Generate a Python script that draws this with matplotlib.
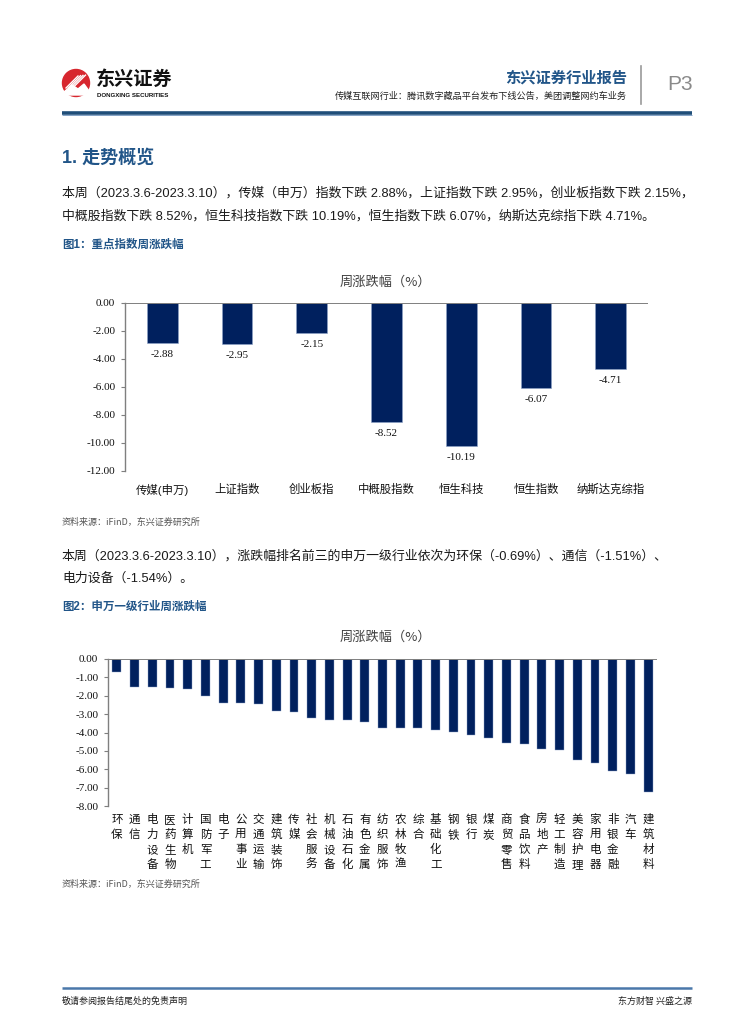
import matplotlib
matplotlib.use('Agg')
import matplotlib.pyplot as plt
from matplotlib.patches import Circle, Polygon

# ---------------- data ----------------
idx_names = ['传媒(申万)', '上证指数', '创业板指', '中概股指数', '恒生科技', '恒生指数', '纳斯达克综指']
idx_vals = [-2.88, -2.95, -2.15, -8.52, -10.19, -6.07, -4.71]
idx_ticks = [0, -2, -4, -6, -8, -10, -12]

ind_names = ['环保', '通信', '电力设备', '医药生物', '计算机', '国防军工', '电子', '公用事业',
             '交通运输', '建筑装饰', '传媒', '社会服务', '机械设备', '石油石化', '有色金属',
             '纺织服饰', '农林牧渔', '综合', '基础化工', '钢铁', '银行', '煤炭', '商贸零售',
             '食品饮料', '房地产', '轻工制造', '美容护理', '家用电器', '非银金融', '汽车', '建筑材料']
ind_vals = [-0.69, -1.51, -1.54, -1.60, -1.65, -2.01, -2.40, -2.41, -2.46, -2.82, -2.88,
            -3.19, -3.30, -3.33, -3.44, -3.77, -3.77, -3.77, -3.88, -3.99, -4.13, -4.28,
            -4.55, -4.61, -4.92, -4.95, -5.48, -5.65, -6.07, -6.27, -7.25]
ind_ticks = [0, -1, -2, -3, -4, -5, -6, -7, -8]

para1 = ['本周（2023.3.6-2023.3.10），传媒（申万）指数下跌 2.88%，上证指数下跌 2.95%，创业板指数下跌 2.15%，',
         '中概股指数下跌 8.52%，恒生科技指数下跌 10.19%，恒生指数下跌 6.07%，纳斯达克综指下跌 4.71%。']
para2 = ['本周（2023.3.6-2023.3.10），涨跌幅排名前三的申万一级行业依次为环保（-0.69%）、通信（-1.51%）、',
         '电力设备（-1.54%）。']

# ---------------- styles ----------------
SANS = ['Liberation Sans', 'Noto Sans CJK SC', 'DejaVu Sans']
SERIF = ['Liberation Serif', 'Noto Sans CJK SC', 'DejaVu Sans']
CJK = ['Noto Sans CJK SC', 'DejaVu Sans']
BLUE = '#215588'
NAVY = '#00205E'
GRAY = '#7f7f7f'

W, H = 755, 1024
fig = plt.figure(figsize=(W / 100, H / 100), dpi=100)
fig.patch.set_facecolor('white')

def rect(x0, y0, x1, y1):
    return [x0 / W, 1 - y1 / H, (x1 - x0) / W, (y1 - y0) / H]

ov = fig.add_axes([0, 0, 1, 1], zorder=0)
ov.set_xlim(0, W)
ov.set_ylim(H, 0)
ov.axis('off')

# ---- header ----
ov.add_patch(Circle((76, 83), 13.5, color='#D7262E', zorder=2))
ov.add_patch(Polygon([[64, 92], [72, 85], [78, 89], [84, 84], [89, 91], [86, 95], [66, 95]],
                     closed=True, color='white', zorder=3))
for k in range(4):
    ov.plot([66 + k * 2.5, 78 + k * 2.5], [88 - k * 0.3, 76 - k * 0.3], color='white', lw=1.0, zorder=3)
ov.text(96, 79, '东兴证券', family=CJK, fontsize=13.8, fontweight='bold', color='#111111', va='center', ha='left')
ov.text(97, 95.5, 'DONGXING SECURITIES', family=SANS, fontsize=4.4, fontweight='bold', color='#111111', va='center', ha='left')

ov.text(627, 78, '东兴证券行业报告', family=CJK, fontsize=11, fontweight='bold', color=BLUE, va='center', ha='right')
ov.text(627, 96, '传媒互联网行业：腾讯数字藏品平台发布下线公告，美团调整网约车业务', family=CJK, fontsize=6.6,
        color='#222222', va='center', ha='right')
ov.plot([641, 641], [66, 104], color='#9a9a9a', lw=1.2)
ov.text(667, 85, 'P3', family=SANS, fontsize=15, color='#8a8a8a', va='center', ha='left')
ov.plot([62, 692], [113, 113], color='#1F4E79', lw=2.6, solid_capstyle='butt')
ov.plot([62, 692], [114.6, 114.6], color='#6f93bd', lw=0.6, solid_capstyle='butt')

# ---- section 1 ----
ov.text(62, 158, '1. 走势概览', family=SANS, fontsize=13, fontweight='bold', color=BLUE, va='center', ha='left')
for i, line in enumerate(para1):
    ov.text(62, 193 + 23 * i, line, family=SANS, fontsize=9.3, color='#1a1a1a', va='center', ha='left')
ov.text(62, 245, '图1：重点指数周涨跌幅', family=SANS, fontsize=8.3, fontweight='bold', color=BLUE, va='center', ha='left')
ov.text(385, 282, '周涨跌幅（%）', family=CJK, fontsize=9.5, color='#404040', va='center', ha='center')
ov.text(62, 522, '资料来源：iFinD，东兴证券研究所', family=CJK, fontsize=6.5, color='#555555', va='center',
        ha='left', style='italic')

# ---- section 2 ----
for i, line in enumerate(para2):
    ov.text(62, 556 + 23 * i, line, family=SANS, fontsize=9.3, color='#1a1a1a', va='center', ha='left')
ov.text(62, 607, '图2：申万一级行业周涨跌幅', family=SANS, fontsize=8.3, fontweight='bold', color=BLUE, va='center', ha='left')
ov.text(385, 637, '周涨跌幅（%）', family=CJK, fontsize=9.5, color='#404040', va='center', ha='center')
ov.text(62, 884, '资料来源：iFinD，东兴证券研究所', family=CJK, fontsize=6.5, color='#555555', va='center',
        ha='left', style='italic')

# ---- footer ----
ov.plot([62, 692], [988, 988], color='#4a78aa', lw=1.8, solid_capstyle='butt')
ov.text(62, 1001, '敬请参阅报告结尾处的免责声明', family=CJK, fontsize=6.5, color='#222222', va='center', ha='left')
ov.text(692, 1001, '东方财智 兴盛之源', family=CJK, fontsize=6.5, color='#222222', va='center', ha='right')

def style_axis(ax, ticks, fs):
    ax.set_facecolor('none')
    for s in ['top', 'right', 'bottom']:
        ax.spines[s].set_visible(False)
    ax.spines['left'].set_color(GRAY)
    ax.spines['left'].set_linewidth(1.0)
    ax.axhline(0, color=GRAY, lw=1.4, zorder=3)
    ax.set_yticks(ticks)
    ax.set_yticklabels([f'{t:.2f}' for t in ticks], family=SERIF, fontsize=fs, color='#111111')
    ax.tick_params(axis='y', direction='out', length=3, width=0.8, color=GRAY, pad=4)
    ax.tick_params(axis='x', length=0)

# ---- chart 1 ----
ax1 = fig.add_axes(rect(125, 303, 648, 471), zorder=2)
x1 = list(range(len(idx_vals)))
ax1.bar(x1, idx_vals, width=0.41, color=NAVY, edgecolor='#8fa3c8', linewidth=0.4, zorder=2)
ax1.set_xlim(-0.5, len(idx_vals) - 0.5)
ax1.set_ylim(min(idx_ticks), 0)
style_axis(ax1, idx_ticks, 8)
ax1.set_xticks(x1)
ax1.set_xticklabels(idx_names, family=SANS, fontsize=8.2, color='#111111')
ax1.tick_params(axis='x', pad=9)
for xi, v in zip(x1, idx_vals):
    ax1.annotate(f'{v:.2f}', (xi, v), xytext=(0, -5), textcoords='offset points', ha='center', va='top',
                 family=SERIF, fontsize=8, color='#111111')

# ---- chart 2 ----
ax2 = fig.add_axes(rect(108, 659, 657, 806), zorder=2)
x2 = list(range(len(ind_vals)))
ax2.bar(x2, ind_vals, width=0.5, color=NAVY, edgecolor='#8fa3c8', linewidth=0.3, zorder=2)
ax2.set_xlim(-0.5, len(ind_vals) - 0.5)
ax2.set_ylim(min(ind_ticks), 0)
style_axis(ax2, ind_ticks, 8)
ax2.set_xticks(x2)
ax2.set_xticklabels(['\n'.join(n) for n in ind_names], family=CJK, fontsize=8.3, color='#111111',
                    linespacing=1.2, va='top')
ax2.tick_params(axis='x', pad=5)

fig.savefig('out.png', dpi=100, facecolor='white')
